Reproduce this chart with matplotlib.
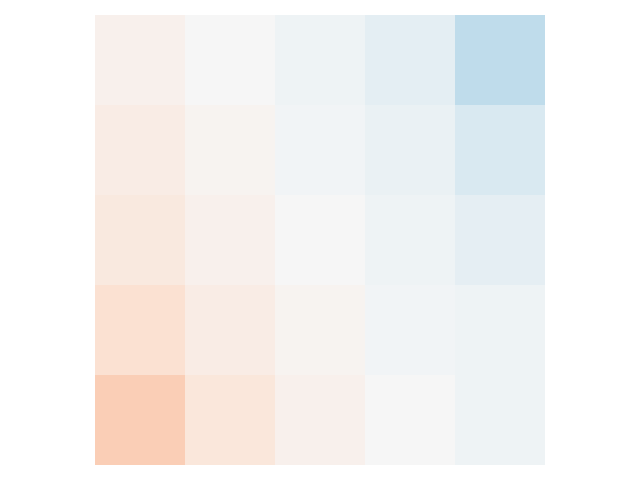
import matplotlib
matplotlib.use("Agg")
import matplotlib.pyplot as plt
import numpy as np

# cell values, top row first (diverging colormap, -1..1)
row0 = [-0.04, 0.00, 0.04, 0.10, 0.25]
row1 = [-0.075, -0.025, 0.025, 0.065, 0.155]
row2 = [-0.10, -0.045, 0.00, 0.04, 0.09]
row3 = [-0.155, -0.075, -0.03, 0.025, 0.045]
row4 = [-0.25, -0.115, -0.045, 0.00, 0.04]

data = np.array([row0, row1, row2, row3, row4])

fig, ax = plt.subplots(figsize=(6.4, 4.8), dpi=100)
ax.imshow(data, cmap='RdBu', vmin=-1, vmax=1)
ax.axis('off')
plt.tight_layout()
plt.savefig('out.png')
